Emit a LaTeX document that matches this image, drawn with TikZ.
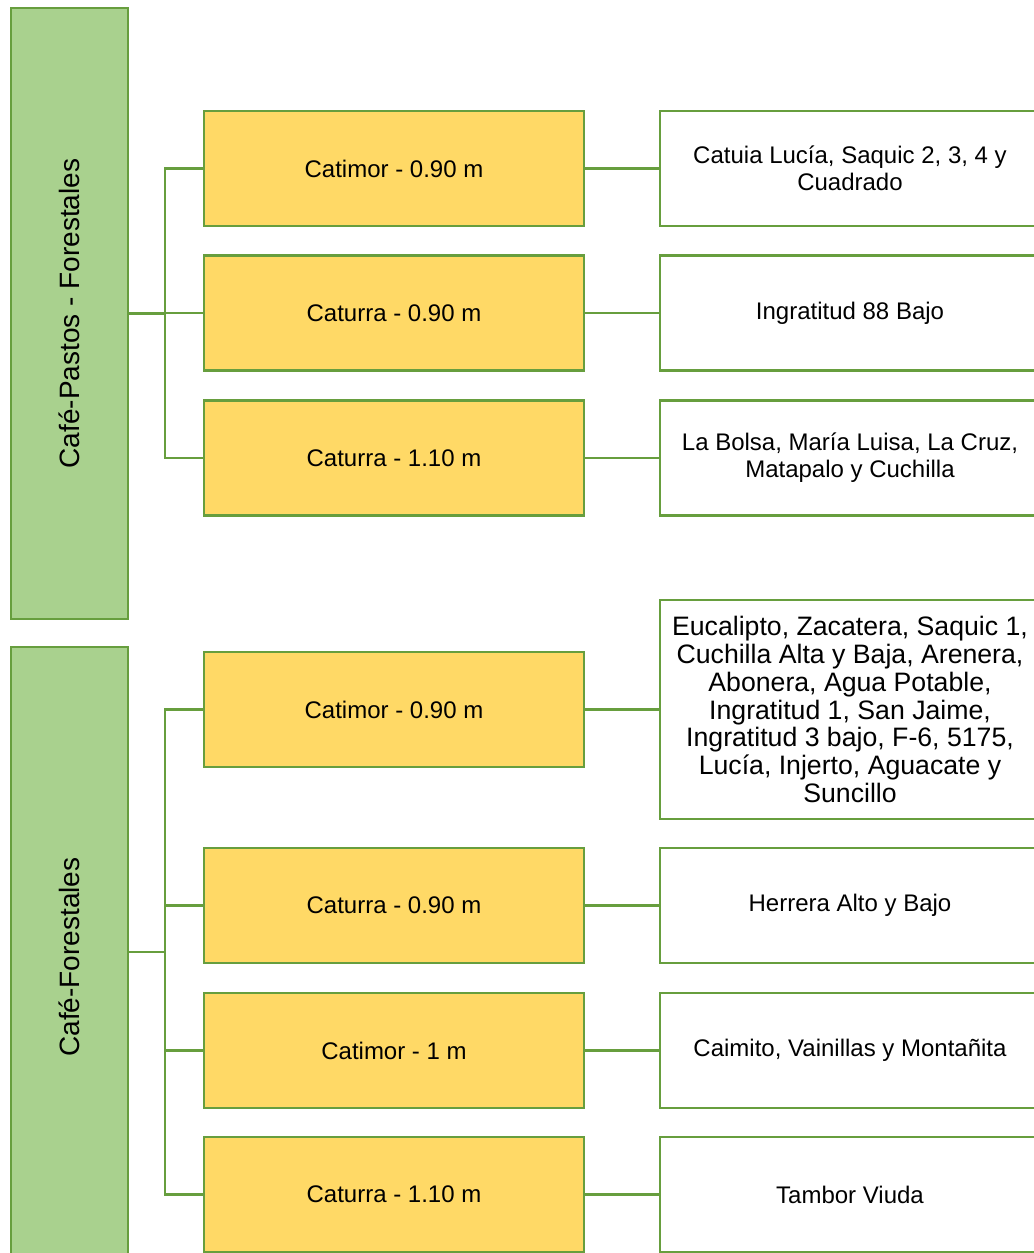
\documentclass[tikz,border=0pt]{standalone}
\usepackage{fontspec}
\setmainfont{Liberation Sans}
\definecolor{lgreen}{HTML}{A9D18E}
\definecolor{dgreen}{HTML}{679E3E}
\definecolor{lyellow}{HTML}{FFD966}
\tikzset{
  base/.style={draw=dgreen, line width=1.8pt, inner sep=2pt, align=center,
    font=\fontsize{18}{20.25}\selectfont},
  gbox/.style={base, fill=lgreen, minimum width=87.75pt, font=\fontsize{21}{24}\selectfont},
  ybox/.style={base, fill=lyellow, minimum width=285pt, minimum height=86.25pt},
  wbox/.style={base, fill=white, minimum width=285pt, minimum height=86.25pt},
  link/.style={draw=dgreen, line width=1.8pt}
}
\begin{document}
\begin{tikzpicture}[x=0.75pt, y=-0.75pt]
\useasboundingbox (0,0) rectangle (1034,1253);
\begin{scope}
\clip (0,0) rectangle (1034,1253);
% group 1
\node[gbox, minimum height=458.25pt] (g1) at (69.5,313.5) {};
\node[rotate=90, font=\fontsize{21}{24}\selectfont] (g1t) at (g1.center) {Café-Pastos - Forestales};
\node[ybox] (a1) at (394,168.5) {Catimor - 0.90 m};
\node[ybox] (a2) at (394,313) {Caturra - 0.90 m};
\node[ybox] (a3) at (394,458) {Caturra - 1.10 m};
\node[wbox] (b1) at (850,168.5) {Catuia Lucía, Saquic 2, 3, 4 y\\Cuadrado};
\node[wbox] (b2) at (850,313) {Ingratitud 88 Bajo};
\node[wbox] (b3) at (850,458) {La Bolsa, María Luisa, La Cruz,\\Matapalo y Cuchilla};
\coordinate (t1) at (165,313.5);
\draw[link] (g1.east) -- (t1);
\draw[link] (t1) |- (a1.west);
\draw[link] (t1) |- (a2.west);
\draw[link] (t1) |- (a3.west);
\draw[link] (a1) -- (b1);
\draw[link] (a2) -- (b2);
\draw[link] (a3) -- (b3);
% group 2
\node[gbox, minimum height=457.5pt] (g2) at (69.5,952) {};
\node[rotate=90, font=\fontsize{21}{24}\selectfont] (g2t) at (69.5,957) {Café-Forestales};
\node[ybox] (c1) at (394,709.5) {Catimor - 0.90 m};
\node[ybox] (c2) at (394,905.5) {Caturra - 0.90 m};
\node[ybox] (c3) at (394,1050.5) {Catimor - 1 m};
\node[ybox] (c4) at (394,1194.5) {Caturra - 1.10 m};
\node[wbox, minimum height=164.25pt, font=\fontsize{20}{20.8}\selectfont] (d1) at (850,709.5)
  {Eucalipto, Zacatera, Saquic 1,\\Cuchilla Alta y Baja, Arenera,\\Abonera, Agua Potable,\\Ingratitud 1, San Jaime,\\Ingratitud 3 bajo, F-6, 5175,\\Lucía, Injerto, Aguacate y\\Suncillo};
\node[wbox] (d2) at (850,905.5) {Herrera Alto y Bajo};
\node[wbox] (d3) at (850,1050.5) {Caimito, Vainillas y Montañita};
\node[wbox] (d4) at (850,1194.5) {Tambor Viuda};
\coordinate (t2) at (165,952);
\draw[link] (g2.east) -- (t2);
\draw[link] (t2) |- (c1.west);
\draw[link] (t2) |- (c2.west);
\draw[link] (t2) |- (c3.west);
\draw[link] (t2) |- (c4.west);
\draw[link] (c1) -- (d1);
\draw[link] (c2) -- (d2);
\draw[link] (c3) -- (d3);
\draw[link] (c4) -- (d4);
\end{scope}
\end{tikzpicture}
\end{document}
